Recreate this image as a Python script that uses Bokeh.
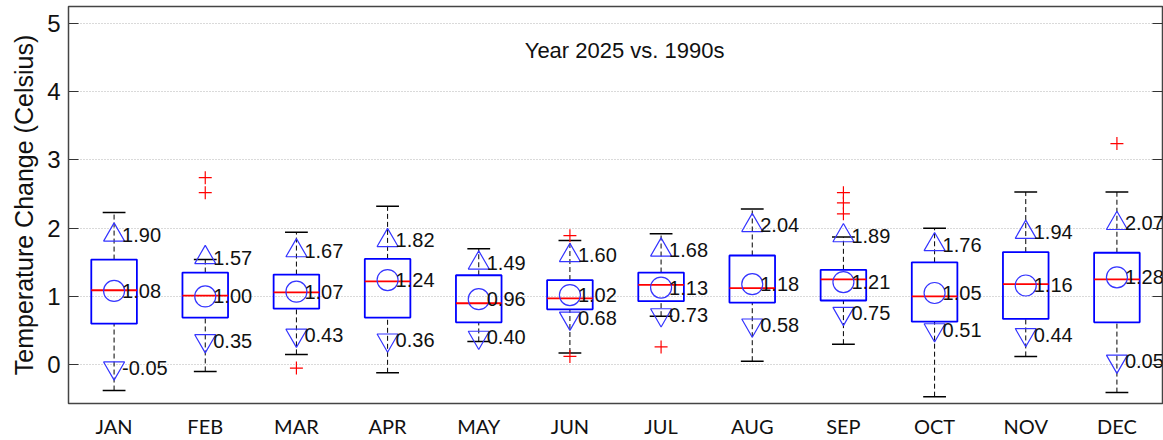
import numpy as np
from bokeh.plotting import figure
from bokeh.models import Range1d, FixedTicker, LinearAxis, Label, ColumnDataSource, CustomJSTickFormatter
from bokeh.core.properties import value
from bokeh.embed import file_html
from bokeh.resources import INLINE

months = ["JAN", "FEB", "MAR", "APR", "MAY", "JUN", "JUL", "AUG", "SEP", "OCT", "NOV", "DEC"]
whisker_lo = [-0.38, -0.10, 0.15, -0.12, 0.34, 0.17, 0.71, 0.05, 0.30, -0.47, 0.12, -0.41]
q1 = [0.60, 0.69, 0.82, 0.69, 0.62, 0.81, 0.93, 0.91, 0.94, 0.63, 0.67, 0.62]
median = [1.09, 1.01, 1.06, 1.22, 0.90, 0.97, 1.17, 1.12, 1.25, 1.00, 1.18, 1.25]
q3 = [1.54, 1.35, 1.32, 1.55, 1.31, 1.24, 1.35, 1.60, 1.39, 1.50, 1.65, 1.64]
whisker_hi = [2.23, 1.54, 1.94, 2.32, 1.70, 1.82, 1.92, 2.28, 1.87, 2.00, 2.53, 2.53]
mean_vals = [1.08, 1.00, 1.07, 1.24, 0.96, 1.02, 1.13, 1.18, 1.21, 1.05, 1.16, 1.28]
upper_vals = [1.90, 1.57, 1.67, 1.82, 1.49, 1.60, 1.68, 2.04, 1.89, 1.76, 1.94, 2.07]
lower_vals = [-0.05, 0.35, 0.43, 0.36, 0.40, 0.68, 0.73, 0.58, 0.75, 0.51, 0.44, 0.05]
outlier_month = ["FEB", "FEB", "MAR", "JUN", "JUN", "JUL", "SEP", "SEP", "SEP", "DEC"]
outlier_vals = [2.74, 2.52, -0.05, 1.89, 0.12, 0.26, 2.52, 2.37, 2.21, 3.24]
y_ticks = [0, 1, 2, 3, 4, 5]
title_text = "Year 2025 vs. 1990s"
y_label = "Temperature Change (Celsius)"

NUM_FONT = "Liberation Sans"
x = np.arange(1, len(months) + 1, dtype=float)
box_w = 0.5
cap_w = 0.25

p = figure(width=1163, height=440, output_backend="svg", toolbar_location=None,
           x_range=Range1d(0.5, 12.5), y_range=Range1d(-0.57, 5.25),
           min_border_left=68, min_border_right=1, min_border_top=6, min_border_bottom=37)

p.outline_line_color = "#444444"
p.outline_line_width = 1.5
p.background_fill_color = "white"
p.border_fill_color = "white"

p.xgrid.grid_line_color = None
p.ygrid.grid_line_color = "#b4b4b4"
p.ygrid.grid_line_dash = "1 2"
p.ygrid.grid_line_width = 1

# x axis
p.xaxis.ticker = FixedTicker(ticks=list(x))
p.xaxis.major_label_overrides = {int(i): m for i, m in zip(x, months)}
p.xaxis.major_tick_line_color = None
p.xaxis.major_tick_out = 0
p.xaxis.major_tick_in = 0
p.xaxis.minor_tick_line_color = None
p.xaxis.axis_line_color = None
p.xaxis.major_label_text_font = "Lato"
p.xaxis.major_label_text_font_size = "20px"
p.xaxis.major_label_text_color = "#111111"
p.xaxis.major_label_standoff = 10

# y axis
p.yaxis.ticker = FixedTicker(ticks=y_ticks)
p.yaxis.axis_line_color = None
p.yaxis.major_tick_in = 10
p.yaxis.major_tick_out = 0
p.yaxis.major_tick_line_color = "#333333"
p.yaxis.minor_tick_line_color = None
p.yaxis.major_label_text_font = NUM_FONT
p.yaxis.major_label_text_font_size = "24px"
p.yaxis.major_label_text_color = "#111111"
p.yaxis.major_label_standoff = 8
p.yaxis.axis_label = y_label
p.yaxis.axis_label_text_font = NUM_FONT
p.yaxis.axis_label_text_font_size = "25px"
p.yaxis.axis_label_text_font_style = "normal"
p.yaxis.axis_label_text_color = "#111111"
p.yaxis.axis_label_standoff = 6

right = LinearAxis(ticker=FixedTicker(ticks=y_ticks),
                   formatter=CustomJSTickFormatter(code="return '';"))
right.axis_line_color = None
right.major_tick_in = 10
right.major_tick_out = 0
right.major_tick_line_color = "#333333"
right.minor_tick_line_color = None
right.major_label_standoff = 0
p.add_layout(right, "right")

src = ColumnDataSource(dict(
    x=x, lo=whisker_lo, q1=q1, med=median, q3=q3, hi=whisker_hi,
    mean=mean_vals, up=upper_vals, dn=lower_vals,
    cap0=x - cap_w / 2, cap1=x + cap_w / 2,
    box0=x - box_w / 2, box1=x + box_w / 2,
    mean_lbl=["%.2f" % v for v in mean_vals],
    up_lbl=["%.2f" % v for v in upper_vals],
    dn_lbl=["%.2f" % v for v in lower_vals],
))

# whiskers (dashed)
p.segment(x0="x", y0="lo", x1="x", y1="q1", source=src, line_color="black", line_dash="5 3", line_width=1)
p.segment(x0="x", y0="q3", x1="x", y1="hi", source=src, line_color="black", line_dash="5 3", line_width=1)
# caps
p.segment(x0="cap0", y0="lo", x1="cap1", y1="lo", source=src, line_color="black", line_width=1.5)
p.segment(x0="cap0", y0="hi", x1="cap1", y1="hi", source=src, line_color="black", line_width=1.5)
# boxes
p.vbar(x="x", width=box_w, bottom="q1", top="q3", source=src, fill_color=None,
       line_color="#0000ff", line_width=1.8)
# median
p.segment(x0="box0", y0="med", x1="box1", y1="med", source=src, line_color="#ff0000", line_width=1.8)

# outliers
ox = [x[months.index(m)] for m in outlier_month]
p.scatter(ox, outlier_vals, marker="cross", size=13, line_color="#ff0000", line_width=1.2)

# mean / upper / lower markers
p.scatter("x", "mean", source=src, marker="circle", size=21, fill_color=None, line_color="#3535ff", line_width=1.2)
p.scatter("x", "up", source=src, marker="triangle", size=21, fill_color=None, line_color="#3535ff", line_width=1.2)
p.scatter("x", "dn", source=src, marker="inverted_triangle", size=21, fill_color=None, line_color="#3535ff", line_width=1.2)

for col, ycol in (("mean_lbl", "mean"), ("up_lbl", "up"), ("dn_lbl", "dn")):
    p.text(x="x", y=ycol, text=col, source=src, x_offset=8, text_align="left", text_baseline="middle",
           text_font=value(NUM_FONT), text_font_size="20px", text_color="#111111")

p.add_layout(Label(x=6.6, y=4.6, text=title_text, text_align="center", text_baseline="middle",
                   text_font=NUM_FONT, text_font_size="22px", text_color="#111111"))

open("out.html", "w").write(file_html(p, INLINE))
